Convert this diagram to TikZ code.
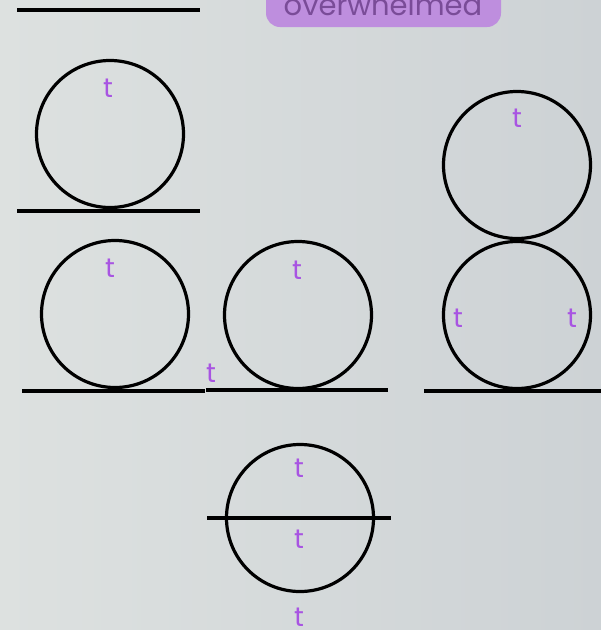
\documentclass[tikz,border=0pt]{standalone}
\usepackage{fontspec}
\setmainfont{Poppins}
\usepackage{tikz}
\usetikzlibrary{positioning}
\definecolor{bgleft}{RGB}{221,225,224}
\definecolor{bgright}{RGB}{205,210,213}
\definecolor{tviolet}{RGB}{168,84,226}
\definecolor{pillfill}{RGB}{190,142,222}
\definecolor{pilltext}{RGB}{122,76,152}
\tikzset{
  ring/.style={circle,draw,line width=3.2pt,minimum size=147pt,inner sep=0pt},
  floor/.style={line width=3.2pt},
  tlab/.style={text=tviolet,font=\fontsize{27}{27}\selectfont,inner sep=0pt}
}

\begin{document}
\begin{tikzpicture}[x=1pt,y=-1pt]
    \shade[left color=bgleft,right color=bgright] (0,0) rectangle (601,630);
    \useasboundingbox (0,0) rectangle (601,630);
    \clip (0,0) rectangle (601,630);
    % label at the top
    \fill[pillfill,rounded corners=14pt] (266,-30) rectangle (501,27);
    \node[anchor=base,text=pilltext,font=\fontsize{29}{29}\selectfont] (ow) at (383,15) {overwhelmed};
    \draw[floor] (17,10) -- (200,10);
    % single circle
    \node[ring] (c1) at (110,134) {};
    \node[tlab] (t1) at (108,88) {t};
    \draw[floor] (17,211) -- (200,211);
    % two circles side by side
    \node[ring] (c2) at (115,314) {};
    \node[tlab] (t2) at (110,268) {t};
    \draw[floor] (22,391) -- (205,391);
    \node[ring] (c3) at (298,315) {};
    \node[tlab] (t3) at (297,270) {t};
    \node[tlab] (t4) at (211,373) {t};
    \draw[floor] (206,390) -- (388,390);
    % stacked circles
    \node[ring] (c4) at (517,165) {};
    \node[tlab] (t5) at (517,118) {t};
    \node[ring] (c5) at (517,315) {};
    \node[tlab] (t6) at (458,318) {t};
    \node[tlab] (t7) at (572,318) {t};
    \draw[floor] (424,391) -- (601,391);
    % cut circle
    \node[ring] (c6) at (300,518) {};
    \draw[floor] (207,518) -- (391,518);
    \node[tlab] (t8) at (299,468) {t};
    \node[tlab] (t9) at (299,539) {t};
    \node[tlab] (t10) at (299,617) {t};
\end{tikzpicture}
\end{document}
